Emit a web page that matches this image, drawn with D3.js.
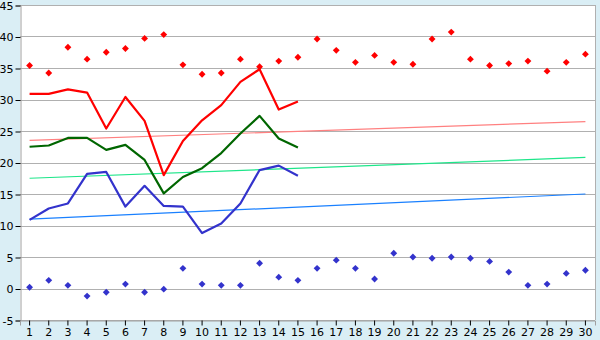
<!DOCTYPE html>
<html>
<head>
<meta charset="utf-8">
<script src="https://cdn.jsdelivr.net/npm/d3@7"></script>
<style>
body { margin: 0; background: #daeef5; }
svg { display: block; }
</style>
</head>
<body>
<svg width="600" height="340"></svg>
<script>
var days = d3.range(1, 31);
var yTicks = [-5, 0, 5, 10, 15, 20, 25, 30, 35, 40, 45];

// month so far (days 1-15)
var maxTemp = [30.9, 30.9, 31.6, 31.1, 25.4, 30.4, 26.6, 18.0, 23.4, 26.7, 29.1, 32.8, 34.8, 28.4, 29.7];
var avgTemp = [22.5, 22.7, 23.9, 23.9, 22.0, 22.8, 20.4, 15.1, 17.7, 19.1, 21.5, 24.6, 27.4, 23.8, 22.4];
var minTemp = [10.9, 12.7, 13.5, 18.2, 18.5, 13.0, 16.3, 13.1, 13.0, 8.8, 10.3, 13.5, 18.8, 19.5, 17.9];

// records for every day
var recordHigh = [35.4, 34.2, 38.3, 36.4, 37.5, 38.1, 39.7, 40.3, 35.5, 34.0,
                  34.2, 36.4, 35.2, 36.1, 36.7, 39.6, 37.8, 35.9, 37.0, 35.9,
                  35.6, 39.6, 40.7, 36.4, 35.4, 35.7, 36.1, 34.5, 35.9, 37.2];
var recordLow = [0.2, 1.3, 0.5, -1.2, -0.6, 0.7, -0.6, -0.1, 3.2, 0.7,
                 0.5, 0.5, 4.0, 1.8, 1.3, 3.2, 4.5, 3.2, 1.5, 5.6,
                 5.0, 4.8, 5.0, 4.8, 4.3, 2.6, 0.5, 0.7, 2.4, 2.9];

// normals (start and end of month)
var normalMax = [23.5, 26.5];
var normalAvg = [17.5, 20.8];
var normalMin = [11.0, 15.0];

var svg = d3.select('svg');
var pLeft = 20, pRight = 595, pTop = 5, pBottom = 320;

var x = d3.scaleBand().domain(days).range([pLeft, pRight]);
var y = d3.scaleLinear().domain([-5, 45]).range([pBottom, pTop]);
var cx = function(d){ return x(d) + x.bandwidth() / 2; };

svg.append('rect')
	.attr('x', pLeft).attr('y', pTop)
	.attr('width', pRight - pLeft).attr('height', pBottom - pTop)
	.attr('fill', '#fff');

// grid
svg.append('g').selectAll('line').data(yTicks).enter().append('line')
	.attr('x1', pLeft).attr('x2', pRight)
	.attr('y1', function(d){ return Math.round(y(d)) + 0.5; })
	.attr('y2', function(d){ return Math.round(y(d)) + 0.5; })
	.attr('stroke', '#b0b0b0');

svg.append('line')
	.attr('x1', pRight + 0.5).attr('x2', pRight + 0.5)
	.attr('y1', pTop).attr('y2', pBottom)
	.attr('stroke', '#b0b0b0');

// axes (plain hyphen for negatives, as in the original)
var yAxis = svg.append('g')
	.attr('transform', 'translate(' + (pLeft + 0.5) + ',0.5)')
	.call(d3.axisLeft(y).tickValues(yTicks).tickSize(5).tickPadding(2)
		.tickFormat(function(d){ return String(d); }));
var xAxis = svg.append('g')
	.attr('transform', 'translate(0,' + (pBottom + 0.5) + ')')
	.call(d3.axisBottom(x).tickSize(5).tickPadding(3));
[xAxis, yAxis].forEach(function(a){
	a.select('.domain').attr('stroke', '#a0a0a0');
	a.selectAll('.tick line').attr('stroke', '#000');
	a.selectAll('text')
		.attr('fill', '#000')
		.style('font-family', '"DejaVu Sans", Verdana, sans-serif')
		.style('font-size', '11px');
});

// normal trend lines
function trend(vals, color){
	svg.append('line')
		.attr('x1', cx(1)).attr('x2', cx(30))
		.attr('y1', y(vals[0])).attr('y2', y(vals[1]))
		.attr('stroke', color).attr('stroke-width', 1.2);
}
trend(normalMax, '#ff8080');
trend(normalAvg, '#1ee68a');
trend(normalMin, '#1a80ff');

// temperature lines
var line = d3.line()
	.x(function(d, i){ return cx(days[i]); })
	.y(function(d){ return y(d); });
[[maxTemp, '#ff0000'], [avgTemp, '#006600'], [minTemp, '#3333cc']].forEach(function(s){
	svg.append('path')
		.attr('d', line(s[0]))
		.attr('fill', 'none')
		.attr('stroke', s[1])
		.attr('stroke-width', 2.2)
		.attr('stroke-linejoin', 'round');
});

// record markers
var diamond = d3.symbol().type(d3.symbolDiamond2).size(30);
[[recordHigh, '#ff0000'], [recordLow, '#3333cc']].forEach(function(s){
	svg.append('g').selectAll('path').data(s[0]).enter().append('path')
		.attr('d', diamond)
		.attr('transform', function(d, i){
			return 'translate(' + cx(days[i]) + ',' + y(d) + ')';
		})
		.attr('fill', s[1]);
});
</script>
</body>
</html>
